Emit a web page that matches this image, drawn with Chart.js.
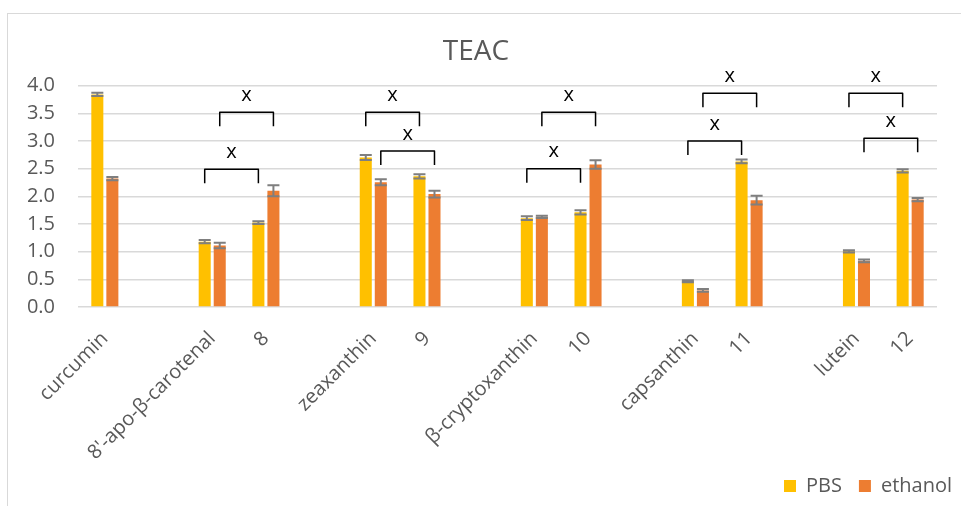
<!DOCTYPE html>
<html>
<head>
<meta charset="utf-8">
<script src="https://cdn.jsdelivr.net/npm/chart.js@4"></script>
<style>
  html, body { margin: 0; padding: 0; background: #fff; }
  #wrap { width: 961px; height: 506px; position: relative; }
</style>
</head>
<body>
<div id="wrap"><canvas id="chart_teac"></canvas></div>
<script>
// categories ('' = empty slot between groups)
const categories = ['curcumin', '', "8'-apo-β-carotenal", '8', '', 'zeaxanthin', '9', '',
    'β-cryptoxanthin', '10', '', 'capsanthin', '11', '', 'lutein', '12'];

const pbs_values = [3.84, null, 1.18, 1.525, null, 2.70, 2.36, null, 1.605, 1.71, null, 0.465, 2.63, null, 1.005, 2.46];
const pbs_errors = [0.03, null, 0.03, 0.025, null, 0.045, 0.04, null, 0.035, 0.04, null, 0.02, 0.035, null, 0.02, 0.03];

const ethanol_values = [2.32, null, 1.11, 2.10, null, 2.255, 2.04, null, 1.63, 2.575, null, 0.30, 1.93, null, 0.835, 1.94];
const ethanol_errors = [0.03, null, 0.05, 0.10, null, 0.055, 0.06, null, 0.02, 0.075, null, 0.025, 0.08, null, 0.025, 0.03];

const y_ticks = [0, 0.5, 1, 1.5, 2, 2.5, 3, 3.5, 4];

// significance brackets: [category index, dataset] -> [category index, dataset], level in TEAC units
const brackets = [
    { from: [2, 0], to: [3, 0], level: 2.49, label: 'x' },
    { from: [2, 1], to: [3, 1], level: 3.52, label: 'x' },
    { from: [5, 0], to: [6, 0], level: 3.52, label: 'x' },
    { from: [5, 1], to: [6, 1], level: 2.82, label: 'x' },
    { from: [8, 1], to: [9, 1], level: 3.52, label: 'x' },
    { from: [8, 0], to: [9, 0], level: 2.50, label: 'x' },
    { from: [11, 1], to: [12, 1], level: 3.86, label: 'x' },
    { from: [11, 0], to: [12, 0], level: 3.00, label: 'x' },
    { from: [14, 0], to: [15, 0], level: 3.86, label: 'x' },
    { from: [14, 1], to: [15, 1], level: 3.05, label: 'x' }
];

const FONT = '"Open Sans", Lato, sans-serif';
const GREY_TEXT = '#595959';

const errorBarsPlugin = {
    id: 'errorBars',
    afterDatasetsDraw(chart) {
        const ctx = chart.ctx;
        const y = chart.scales.y;
        const errs = [pbs_errors, ethanol_errors];
        const vals = [pbs_values, ethanol_values];
        ctx.save();
        ctx.strokeStyle = '#7f7f7f';
        ctx.lineWidth = 2;
        for (let d = 0; d < 2; d++) {
            const meta = chart.getDatasetMeta(d);
            meta.data.forEach(function (bar, i) {
                if (vals[d][i] == null) return;
                const top = y.getPixelForValue(vals[d][i] + errs[d][i]);
                const bot = y.getPixelForValue(vals[d][i] - errs[d][i]);
                const half = bar.width / 2;
                ctx.beginPath();
                ctx.moveTo(bar.x, top);
                ctx.lineTo(bar.x, bot);
                ctx.moveTo(bar.x - half, top);
                ctx.lineTo(bar.x + half, top);
                ctx.moveTo(bar.x - half, bot);
                ctx.lineTo(bar.x + half, bot);
                ctx.stroke();
            });
        }
        ctx.restore();
    }
};

const bracketsPlugin = {
    id: 'brackets',
    afterDraw(chart) {
        const ctx = chart.ctx;
        const y = chart.scales.y;
        ctx.save();
        ctx.strokeStyle = '#000';
        ctx.lineWidth = 1.5;
        ctx.lineJoin = 'round';
        ctx.fillStyle = '#000';
        ctx.font = '20px ' + FONT;
        ctx.textAlign = 'center';
        ctx.textBaseline = 'middle';
        brackets.forEach(function (b) {
            const x1 = chart.getDatasetMeta(b.from[1]).data[b.from[0]].x;
            const x2 = chart.getDatasetMeta(b.to[1]).data[b.to[0]].x;
            const yt = y.getPixelForValue(b.level);
            ctx.beginPath();
            ctx.moveTo(x1, yt + 14);
            ctx.lineTo(x1, yt);
            ctx.lineTo(x2, yt);
            ctx.lineTo(x2, yt + 14);
            ctx.stroke();
            ctx.fillText(b.label, (x1 + x2) / 2, yt - 17);
        });
        ctx.restore();
    }
};

const framePlugin = {
    id: 'frame',
    afterLayout(chart) {
        // push the legend to the right edge, like the original
        chart.legend.left += 17;
        chart.legend.right += 17;
    },
    beforeDraw(chart) {
        const ctx = chart.ctx;
        ctx.save();
        ctx.fillStyle = '#fff';
        ctx.fillRect(0, 0, chart.width, chart.height);
        ctx.strokeStyle = '#d9d9d9';
        ctx.lineWidth = 1;
        ctx.strokeRect(7.5, 13.5, chart.width + 10, chart.height + 10);
        ctx.restore();
    }
};

const data = {
    labels: categories,
    datasets: [{
        label: 'PBS',
        data: pbs_values,
        backgroundColor: '#FFC000',
        categoryPercentage: 0.56,
        barPercentage: 0.8
    }, {
        label: 'ethanol',
        data: ethanol_values,
        backgroundColor: '#ED7D31',
        categoryPercentage: 0.56,
        barPercentage: 0.8
    }]
};

const config = {
    type: 'bar',
    data: data,
    plugins: [framePlugin, errorBarsPlugin, bracketsPlugin],
    options: {
        responsive: true,
        maintainAspectRatio: false,
        animation: false,
        layout: { padding: { left: 0, right: 9, top: 0, bottom: 0 } },
        plugins: {
            title: {
                display: true,
                text: 'TEAC',
                color: GREY_TEXT,
                font: { family: FONT, size: 28, weight: 'normal' },
                padding: { top: 35, bottom: 17 }
            },
            legend: {
                display: true,
                position: 'bottom',
                align: 'end',
                labels: {
                    color: GREY_TEXT,
                    font: { family: FONT, size: 20 },
                    boxWidth: 12,
                    boxHeight: 12,
                    padding: 17,
                    useBorderRadius: false
                }
            },
            tooltip: { enabled: false }
        },
        scales: {
            x: {
                grid: { display: false },
                border: { display: false },
                ticks: {
                    color: GREY_TEXT,
                    font: { family: FONT, size: 20 },
                    minRotation: 45,
                    maxRotation: 45,
                    autoSkip: false,
                    padding: 12
                },
                afterFit: function (scale) { scale.height = 152; }
            },
            y: {
                min: 0,
                max: 4,
                grid: { color: '#d9d9d9', lineWidth: 1.5, drawTicks: false },
                border: { display: false },
                afterBuildTicks: function (scale) {
                    scale.ticks = y_ticks.map(function (v) { return { value: v }; });
                },
                ticks: {
                    color: GREY_TEXT,
                    font: { family: FONT, size: 20 },
                    padding: 23,
                    callback: function (v) { return Number(v).toFixed(1); }
                },
                afterFit: function (scale) { scale.width = 78; }
            },
            yPad: {
                position: 'right',
                display: true,
                grid: { display: false },
                border: { display: false },
                ticks: { display: false },
                afterFit: function (scale) { scale.width = 15; }
            }
        }
    }
};

const myChart = new Chart(document.getElementById('chart_teac'), config);
</script>
</body>
</html>
